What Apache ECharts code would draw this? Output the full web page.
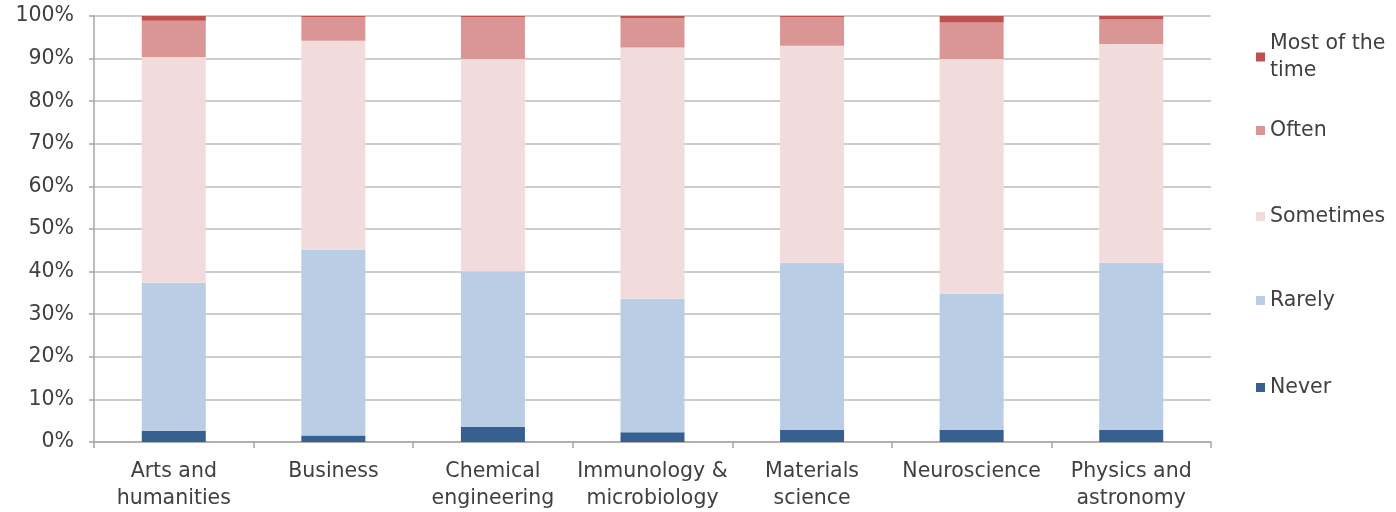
<!DOCTYPE html>
<html>
<head>
<meta charset="utf-8">
<script src="https://cdn.jsdelivr.net/npm/echarts@6/dist/echarts.min.js"></script>
<style>
html,body{margin:0;padding:0;background:#fff;}
#chart{width:1396px;height:512px;}
</style>
</head>
<body>
<div id="chart"></div>
<script>
const categories = ['Arts and\nhumanities','Business','Chemical\nengineering','Immunology &\nmicrobiology','Materials\nscience','Neuroscience','Physics and\nastronomy'];
const never     = [2.6, 1.5, 3.6, 2.3, 2.9, 2.9, 2.9];
const rarely    = [34.8, 43.6, 36.4, 31.3, 39.2, 31.9, 39.2];
const sometimes = [53.0, 49.1, 49.9, 59.0, 50.9, 55.1, 51.3];
const often     = [8.5, 5.5, 9.8, 6.9, 6.7, 8.6, 5.8];
const mostTime  = [1.1, 0.3, 0.3, 0.5, 0.3, 1.5, 0.8];
const yTicks = [0,10,20,30,40,50,60,70,80,90,100];

const seriesNames = ['Never','Rarely','Sometimes','Often','Most of the time'];
const seriesData = [never, rarely, sometimes, often, mostTime];
const colors = ['#376092','#b9cde5','#f2dcdb','#d99694','#c0504d'];

const font = '"DejaVu Sans", "Liberation Sans", Arial, sans-serif';
const txt = '#404040';
const fs = 20.5;

const series = seriesNames.map((n,i)=>({
  name:n, type:'bar', stack:'total', barWidth:64,
  data: seriesData[i], itemStyle:{color:colors[i]}
}));

const legendTops = {'Most of the time':30,'Often':117,'Sometimes':203,'Rarely':287,'Never':374};
const legends = Object.keys(legendTops).map(n=>({
  data:[n], left:1256, top:legendTops[n], orient:'vertical',
  itemWidth:9, itemHeight:9, icon:'rect', padding:0,
  formatter: v => v==='Most of the time' ? 'Most of the\ntime' : v,
  textStyle:{fontFamily:font, fontSize:fs, color:txt, lineHeight:27}
}));

const chart = echarts.init(document.getElementById('chart'));
chart.setOption({
  animation:false,
  color:colors,
  legend: legends,
  grid:{left:94, right:185, top:16, bottom:69, containLabel:false},
  xAxis:{
    type:'category', data:categories,
    axisLine:{lineStyle:{color:'#a6a6a6', width:1.5}},
    axisTick:{show:true, length:6, lineStyle:{color:'#a6a6a6', width:1.5}},
    axisLabel:{fontFamily:font, fontSize:fs, color:txt, lineHeight:27, margin:16, interval:0}
  },
  yAxis:{
    type:'value', min:0, max:100, interval:10,
    axisLine:{show:true, lineStyle:{color:'#a6a6a6', width:1.5}},
    axisTick:{show:true, length:5, lineStyle:{color:'#a6a6a6', width:1.5}},
    splitLine:{lineStyle:{color:'#bcbcbc', width:1.5}},
    axisLabel:{fontFamily:font, fontSize:fs, color:txt, margin:20, formatter: v => v + '%'}
  },
  series: series
});
</script>
</body>
</html>
